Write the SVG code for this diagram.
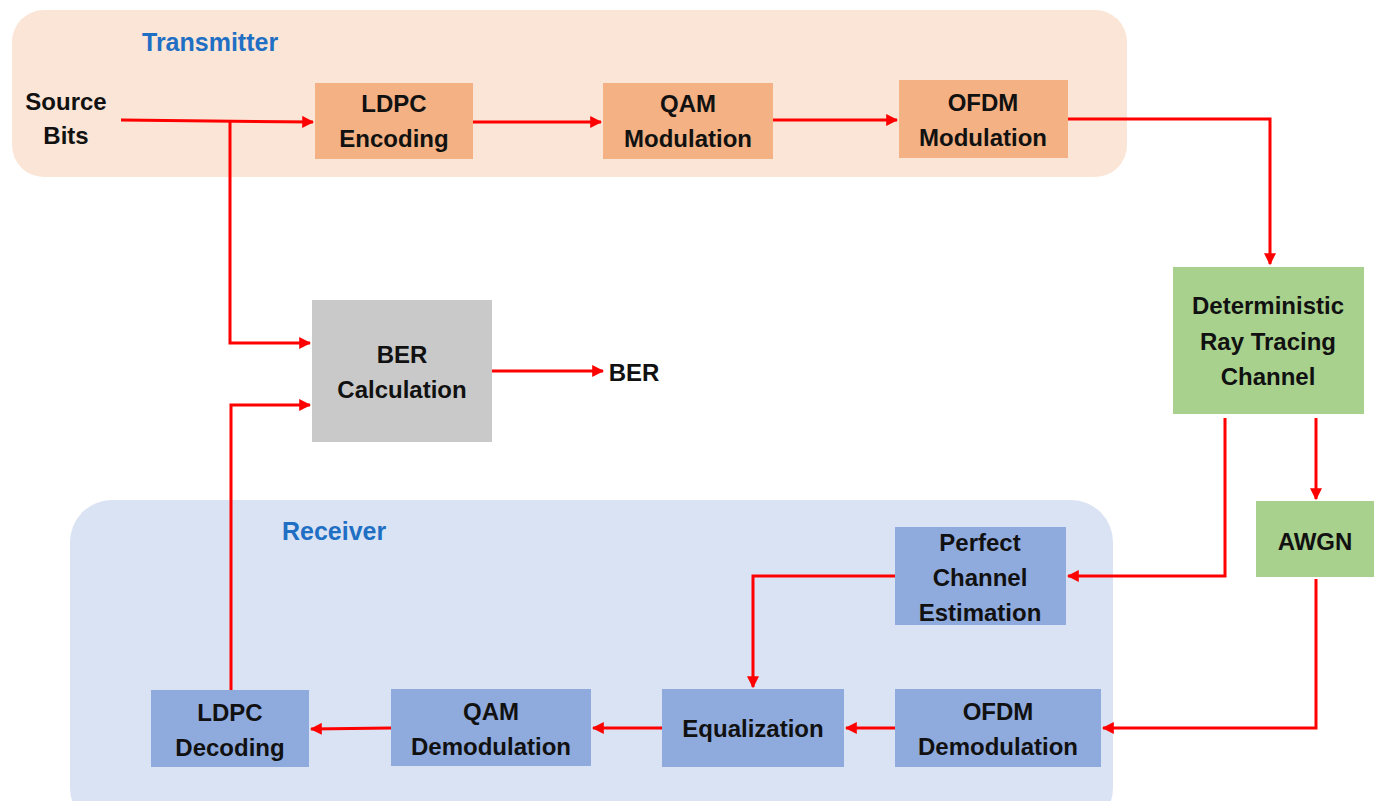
<svg xmlns="http://www.w3.org/2000/svg" width="1374" height="801" viewBox="0 0 1374 801">
<defs>
<marker id="ah" viewBox="0 0 10 10" refX="9" refY="5" markerWidth="4" markerHeight="4" orient="auto" markerUnits="strokeWidth">
<path d="M0,0 L10,5 L0,10 z" fill="#ff0000"/>
</marker>
<style>
.t{font-family:"Liberation Sans",Arial,sans-serif;font-weight:bold;font-size:24px;fill:#111;text-anchor:middle}
.lbl{font-family:"Liberation Sans",Arial,sans-serif;font-weight:bold;font-size:25px;fill:#1f6fc4}
.tx{fill:#f4b183}
.rx{fill:#8faadc}
.ch{fill:#a9d18e}
.c{fill:none;stroke:#ff0000;stroke-width:3;marker-end:url(#ah)}
</style>
</defs>
<rect width="1374" height="801" fill="#ffffff"/>
<g id="transmitter">
<rect x="12" y="10" width="1115" height="167" rx="32" fill="#fbe5d6"/>
<text class="lbl" x="142" y="51">Transmitter</text>
</g>
<g id="receiver">
<rect x="70" y="500" width="1043" height="330" rx="42" fill="#dae3f3"/>
<text class="lbl" x="282" y="540">Receiver</text>
</g>
<g id="source-bits">
<text class="t" x="66" y="110">Source</text>
<text class="t" x="66" y="144">Bits</text>
</g>
<g id="ldpc-encoding">
<rect class="tx" x="315" y="83" width="158" height="76"/>
<text class="t" x="394" y="112">LDPC</text>
<text class="t" x="394" y="147">Encoding</text>
</g>
<g id="qam-modulation">
<rect class="tx" x="603" y="83" width="170" height="76"/>
<text class="t" x="688" y="112">QAM</text>
<text class="t" x="688" y="147">Modulation</text>
</g>
<g id="ofdm-modulation">
<rect class="tx" x="899" y="80" width="169" height="78"/>
<text class="t" x="983" y="111">OFDM</text>
<text class="t" x="983" y="146">Modulation</text>
</g>
<g id="ray-tracing-channel">
<rect class="ch" x="1173" y="267" width="191" height="147"/>
<text class="t" x="1268" y="314">Deterministic</text>
<text class="t" x="1268" y="350">Ray Tracing</text>
<text class="t" x="1268" y="385">Channel</text>
</g>
<g id="awgn">
<rect class="ch" x="1256" y="501" width="118" height="76"/>
<text class="t" x="1315" y="550">AWGN</text>
</g>
<g id="ber-calculation">
<rect x="312" y="300" width="180" height="142" fill="#c9c9c9"/>
<text class="t" x="402" y="363">BER</text>
<text class="t" x="402" y="398">Calculation</text>
</g>
<g id="ber-output">
<text class="t" x="634" y="381">BER</text>
</g>
<g id="perfect-channel-estimation">
<rect class="rx" x="895" y="527" width="171" height="98"/>
<text class="t" x="980" y="551">Perfect</text>
<text class="t" x="980" y="586">Channel</text>
<text class="t" x="980" y="621">Estimation</text>
</g>
<g id="ofdm-demodulation">
<rect class="rx" x="895" y="689" width="206" height="78"/>
<text class="t" x="998" y="720">OFDM</text>
<text class="t" x="998" y="755">Demodulation</text>
</g>
<g id="equalization">
<rect class="rx" x="662" y="689" width="182" height="78"/>
<text class="t" x="753" y="737">Equalization</text>
</g>
<g id="qam-demodulation">
<rect class="rx" x="391" y="689" width="200" height="77"/>
<text class="t" x="491" y="720">QAM</text>
<text class="t" x="491" y="755">Demodulation</text>
</g>
<g id="ldpc-decoding">
<rect class="rx" x="151" y="690" width="158" height="77"/>
<text class="t" x="230" y="721">LDPC</text>
<text class="t" x="230" y="756">Decoding</text>
</g>
<g id="connectors">
<path class="c" d="M121,120 L313,122"/>
<path class="c" d="M230,121 L230,343 L310,343"/>
<path class="c" d="M473,122 L601,122"/>
<path class="c" d="M773,120 L897,120"/>
<path class="c" d="M1068,119 L1270,119 L1270,264"/>
<path class="c" d="M1316,418 L1316,499"/>
<path class="c" d="M1225,418 L1225,576 L1068,576"/>
<path class="c" d="M1316,579 L1316,728 L1103,728"/>
<path class="c" d="M895,728 L846,728"/>
<path class="c" d="M895,576 L753,576 L753,687"/>
<path class="c" d="M662,728 L593,728"/>
<path class="c" d="M391,728 L311,729"/>
<path class="c" d="M231,690 L231,405 L310,405"/>
<path class="c" d="M492,371 L603,371"/>
</g>
</svg>
